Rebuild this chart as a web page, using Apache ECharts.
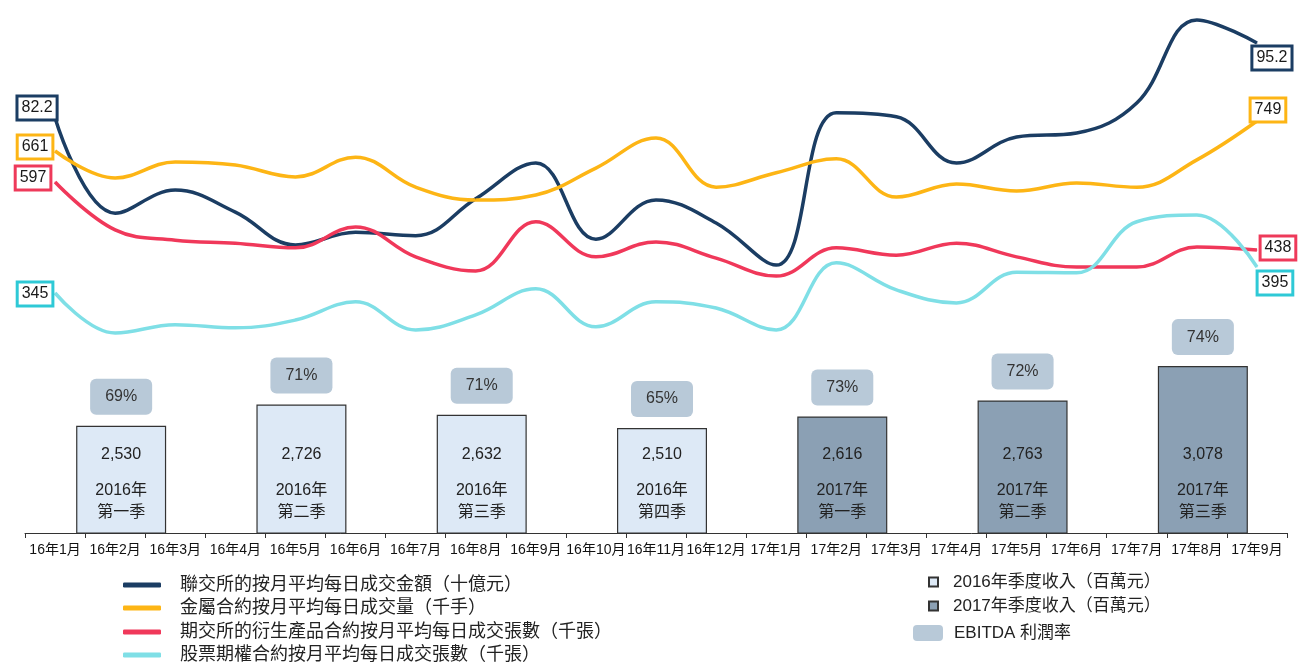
<!DOCTYPE html>
<html>
<head>
	<meta charset="UTF-8">
	<title>成交量及季度收入</title>
	<script src="https://cdn.jsdelivr.net/npm/echarts@6/dist/echarts.min.js"></script>
	<style>
		html, body { margin: 0; padding: 0; background: #fff; }
		#main { width: 1298px; height: 664px; }
	</style>
</head>
<body>
<div id="main"></div>
<script>
	// 月份
	var months = ['16年1月', '16年2月', '16年3月', '16年4月', '16年5月', '16年6月', '16年7月', '16年8月', '16年9月', '16年10月', '16年11月', '16年12月',
		'17年1月', '17年2月', '17年3月', '17年4月', '17年5月', '17年6月', '17年7月', '17年8月', '17年9月'];

	// 四條線（數值按圖估算，首尾為圖中標示值）
	var turnover = [82.2, 65.7, 69.7, 65.9, 60.2, 62.4, 61.8, 68.2, 74.4, 61.2, 68.0, 64.0, 56.7, 83.1, 82.4, 74.4, 78.9, 79.6, 84.8, 99.2, 95.2];
	var metals = [661, 582, 629, 620, 585, 643, 555, 517, 532, 611, 699, 555, 597, 638, 526, 564, 544, 567, 555, 635, 749];
	var derivatives = [597, 485, 461, 454, 443, 492, 422, 389, 504, 422, 457, 419, 377, 443, 426, 454, 422, 398, 398, 445, 438];
	var stockOptions = [345, 268, 284, 278, 293, 328, 274, 303, 353, 280, 328, 316, 274, 403, 351, 326, 385, 384, 482, 495, 395];

	// 季度收入及 EBITDA 利潤率
	var quarterYears = ['2016年', '2016年', '2016年', '2016年', '2017年', '2017年', '2017年'];
	var quarterNames = ['第一季', '第二季', '第三季', '第四季', '第一季', '第二季', '第三季'];
	var revenue = [2530, 2726, 2632, 2510, 2616, 2763, 3078];
	var ebitda = ['69%', '71%', '71%', '65%', '73%', '72%', '74%'];

	var FONT = "'Liberation Sans', 'Noto Sans CJK TC', sans-serif";
	var NAMES = [
		'聯交所的按月平均每日成交金額（十億元）',
		'金屬合約按月平均每日成交量（千手）',
		'期交所的衍生產品合約按月平均每日成交張數（千張）',
		'股票期權合約按月平均每日成交張數（千張）'
	];
	var BAR16 = '2016年季度收入（百萬元）';
	var BAR17 = '2017年季度收入（百萬元）';
	var EBITDA = 'EBITDA 利潤率';

	function fmt(n) {
		return String(n).replace(/\B(?=(\d{3})+(?!\d))/g, ',');
	}

	function endBox(color, offset) {
		return {
			show: true,
			position: 'inside',
			offset: offset,
			fontFamily: FONT,
			fontSize: 16,
			lineHeight: 17,
			color: '#1a1a1a',
			backgroundColor: '#fff',
			borderColor: color,
			borderWidth: 3,
			padding: [2, 3, 2, 3]
		};
	}

	function lineSeries(name, data, color, boxColor, yIdx, startOff, endOff) {
		var last = data.length - 1;
		return {
			name: name,
			type: 'line',
			xAxisIndex: 0,
			yAxisIndex: yIdx,
			smooth: 0.4,
			color: color,
			symbol: 'circle',
			symbolSize: 1,
			showSymbol: true,
			lineStyle: { width: 3.5, color: color },
			itemStyle: { color: color },
			z: 5,
			data: data.map(function (v, i) {
				if (i === 0) return { value: v, label: endBox(boxColor, startOff) };
				if (i === last) return { value: v, label: endBox(boxColor, endOff) };
				return v;
			})
		};
	}

	// 每條線一個圖例，避免自動換欄
	function lineLegend(top, name) {
		return {
			left: 123,
			top: top,
			padding: 0,
			icon: 'roundRect',
			itemWidth: 38,
			itemHeight: 5,
			selectedMode: false,
			textStyle: { fontSize: 18, lineHeight: 18, color: '#222', padding: [0, 0, 0, 14], fontFamily: FONT },
			data: [name]
		};
	}

	var myChart = echarts.init(document.getElementById('main'));

	var option = {
		animation: false,
		backgroundColor: '#fff',
		textStyle: { fontFamily: FONT },
		grid: [
			{ left: 25, right: 11, top: 0, bottom: 131, outerBoundsMode: 'none' },
			{ left: 31, right: 5, top: 0, bottom: 131, outerBoundsMode: 'none' }
		],
		xAxis: [
			{
				gridIndex: 0,
				type: 'category',
				data: months,
				boundaryGap: true,
				axisLine: { onZero: false, lineStyle: { color: '#333', width: 1 } },
				axisTick: { show: true, length: 5, lineStyle: { color: '#333' } },
				axisLabel: { fontSize: 14, color: '#111', margin: 10, interval: 0, fontFamily: FONT }
			},
			{
				gridIndex: 1,
				type: 'category',
				data: quarterNames,
				show: false
			}
		],
		yAxis: [
			{ gridIndex: 0, type: 'value', min: 10.27, max: 102.65, show: false },
			{ gridIndex: 0, type: 'value', min: -459.4, max: 1103.9, show: false },
			{ gridIndex: 0, type: 'value', min: -223.6, max: 1022.5, show: false },
			{ gridIndex: 0, type: 'value', min: -116.5, max: 908.4, show: false },
			{ gridIndex: 1, type: 'value', min: 1547, max: 6437, show: false }
		],
		legend: [
			lineLegend(576, NAMES[0]),
			lineLegend(599, NAMES[1]),
			lineLegend(623, NAMES[2]),
			lineLegend(646, NAMES[3]),
			{
				orient: 'vertical',
				left: 928,
				top: 573,
				padding: 0,
				icon: 'rect',
				itemWidth: 9,
				itemHeight: 9,
				itemGap: 6,
				selectedMode: false,
				textStyle: { fontSize: 17, lineHeight: 18, color: '#222', padding: [0, 0, 0, 10], fontFamily: FONT },
				data: [BAR16, BAR17]
			},
			{
				left: 913,
				top: 624,
				padding: 0,
				itemWidth: 30,
				itemHeight: 16,
				icon: 'roundRect',
				selectedMode: false,
				textStyle: { fontSize: 17, lineHeight: 18, color: '#222', padding: [0, 0, 0, 6], fontFamily: FONT },
				data: [{ name: EBITDA, itemStyle: { color: '#b8c9d8', borderWidth: 0 } }]
			}
		],
		series: [
			{
				name: BAR16,
				type: 'bar',
				xAxisIndex: 1,
				yAxisIndex: 4,
				barWidth: 90,
				barGap: '-100%',
				itemStyle: { color: '#dde9f6', borderColor: '#333', borderWidth: 1.2 },
				data: revenue.map(function (v, i) { return i < 4 ? v : null; })
			},
			{
				name: BAR17,
				type: 'bar',
				xAxisIndex: 1,
				yAxisIndex: 4,
				barWidth: 90,
				barGap: '-100%',
				itemStyle: { color: '#8ba0b4', borderColor: '#333', borderWidth: 1.2 },
				data: revenue.map(function (v, i) { return i >= 4 ? v : null; })
			},
			{
				// 上方 EBITDA 框
				name: EBITDA,
				type: 'bar',
				xAxisIndex: 1,
				yAxisIndex: 4,
				barWidth: 90,
				barGap: '-100%',
				itemStyle: { color: 'rgba(0,0,0,0)' },
				z: 3,
				data: revenue.map(function (v, i) {
					return {
						value: v,
						label: {
							show: true,
							position: 'top',
							distance: 11,
							formatter: ebitda[i],
							fontSize: 16,
							lineHeight: 16,
							color: '#333',
							backgroundColor: '#b8c9d8',
							borderRadius: 6,
							padding: [10, 15, 10, 15],
							fontFamily: FONT
						}
					};
				})
			},
			{
				// 柱內文字
				name: 'inside',
				type: 'bar',
				xAxisIndex: 1,
				yAxisIndex: 4,
				barWidth: 90,
				barGap: '-100%',
				itemStyle: { color: 'rgba(0,0,0,0)' },
				z: 4,
				label: {
					show: true,
					position: 'insideBottom',
					distance: 9,
					formatter: function (p) {
						var i = p.dataIndex;
						return '{v|' + fmt(revenue[i]) + '}\n{s| }\n{q|' + quarterYears[i] + '}\n{q|' + quarterNames[i] + '}';
					},
					rich: {
						v: { fontSize: 16, lineHeight: 22, color: '#222', fontFamily: FONT },
						s: { fontSize: 4, lineHeight: 14 },
						q: { fontSize: 16, lineHeight: 22, color: '#222', fontFamily: FONT }
					}
				},
				data: revenue
			},
			lineSeries(NAMES[0], turnover, '#1b3d63', '#1b3d63', 0, [-18, -10], [15, 15]),
			lineSeries(NAMES[1], metals, '#fdb515', '#fdb515', 1, [-20, -4], [11, -11]),
			lineSeries(NAMES[2], derivatives, '#f0385a', '#ee3a5a', 2, [-22, -4], [21, -2]),
			lineSeries(NAMES[3], stockOptions, '#7fdfe6', '#2ec9d6', 3, [-20, 1], [18, 16])
		]
	};

	myChart.setOption(option);
</script>
</body>
</html>
